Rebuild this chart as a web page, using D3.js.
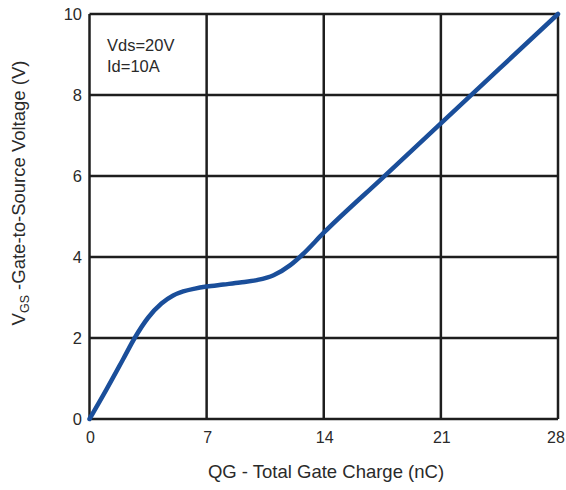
<!DOCTYPE html>
<html><head><meta charset="utf-8">
<script src="https://cdn.jsdelivr.net/npm/d3@7"></script>
<style>body{margin:0;background:#fff}svg{display:block}text{font-family:"Liberation Sans",Arial,sans-serif;fill:#2a2a2a}</style>
</head><body>
<script>
const qg = [0, 1, 2, 2.7, 3.5, 4.3, 5, 5.6, 6.3, 7, 8, 9, 10, 11, 12, 12.7, 14, 17.5, 21, 24.5, 28];
const vgs = [0, 0.72, 1.47, 2.0, 2.5, 2.85, 3.05, 3.15, 3.22, 3.27, 3.32, 3.37, 3.43, 3.55, 3.8, 4.05, 4.6, 5.95, 7.3, 8.65, 10];
const xTicks = [0, 7, 14, 21, 28];
const yTicks = [0, 2, 4, 6, 8, 10];
const notes = ["Vds=20V", "Id=10A"];

const W = 566, H = 490;
const svg = d3.select("body").append("svg").attr("width", W).attr("height", H);
const x = d3.scaleLinear().domain([0, 28]).range([89.5, 558]);
const y = d3.scaleLinear().domain([0, 10]).range([419, 14]);

const grid = svg.append("g").attr("stroke", "#1e1e1e").attr("stroke-width", 2.5);
xTicks.forEach(t => grid.append("line").attr("x1", x(t)).attr("x2", x(t)).attr("y1", y(0)).attr("y2", y(10)));
yTicks.forEach(t => grid.append("line").attr("x1", x(0)).attr("x2", x(28)).attr("y1", y(t)).attr("y2", y(t)));

svg.append("g").selectAll("text").data(xTicks).join("text")
  .attr("x", d => Math.min(x(d) + 1, 556)).attr("y", 443).attr("text-anchor", "middle").attr("font-size", 16).text(d => d);
svg.append("g").selectAll("text").data(yTicks).join("text")
  .attr("x", 82).attr("y", d => y(d) + 6).attr("text-anchor", "end").attr("font-size", 16.5).text(d => d);

svg.append("path").datum(qg.map((q, i) => [q, vgs[i]]))
  .attr("fill", "none").attr("stroke", "#1a4e9a").attr("stroke-width", 4.5).attr("stroke-linecap", "round")
  .attr("d", d3.line().x(d => x(d[0])).y(d => y(d[1])).curve(d3.curveMonotoneX));

svg.append("g").selectAll("text").data(notes).join("text")
  .attr("x", 107).attr("y", (d, i) => 51 + i * 21).attr("font-size", 16.5).text(d => d);

svg.append("text").attr("x", 326).attr("y", 478).attr("text-anchor", "middle").attr("font-size", 18.5)
  .text("QG - Total Gate Charge (nC)");

const yl = svg.append("text").attr("transform", "translate(25,193) rotate(-90)").attr("text-anchor", "middle").attr("font-size", 18.5);
yl.append("tspan").text("V");
yl.append("tspan").attr("font-size", 12.5).attr("dy", 4).text("GS");
yl.append("tspan").attr("dy", -4).text(" -Gate-to-Source Voltage (V)");
</script>
</body></html>
